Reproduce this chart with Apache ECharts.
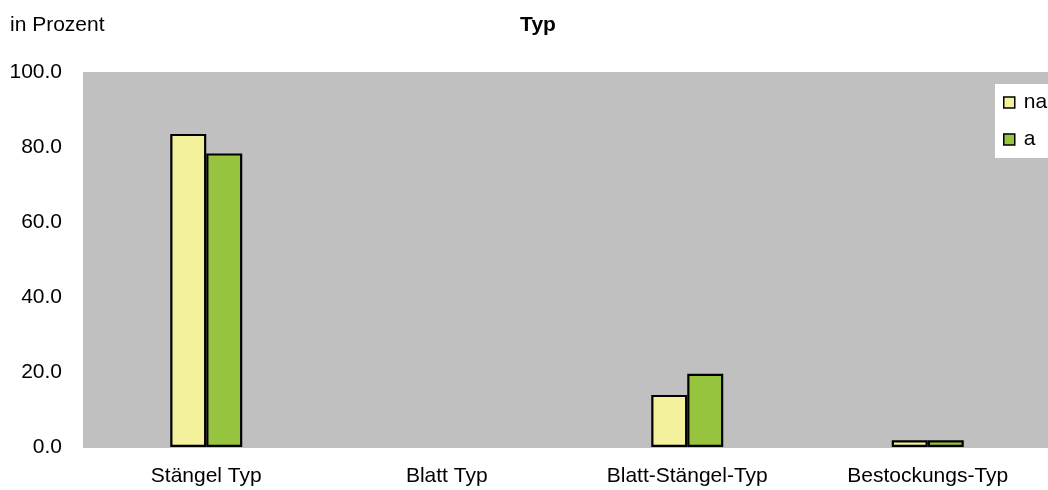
<!DOCTYPE html>
<html>
<head>
<meta charset="utf-8">
<script src="https://cdn.jsdelivr.net/npm/echarts@6/dist/echarts.min.js"></script>
<style>
  html, body { margin: 0; padding: 0; background: #fff; }
  #chart { width: 1048px; height: 490px; }
</style>
</head>
<body>
<div id="chart"></div>
<script>
// Wuchstyp-Anteile in Prozent
const categories = ['Stängel Typ', 'Blatt Typ', 'Blatt-Stängel-Typ', 'Bestockungs-Typ'];
const seriesNames = ['na', 'a'];
const valuesNa = [83.5, 0, 13.9, 1.8];
const valuesA = [78.3, 0, 19.5, 1.8];
const yTicks = { min: 0, max: 100, interval: 20 };

const FONT = '"Liberation Sans", Arial, sans-serif';
const chart = echarts.init(document.getElementById('chart'), null, { renderer: 'canvas' });

// zero-height bars get no outline so nothing shows for empty categories
const toBarData = vals => vals.map(v => v === 0
  ? { value: v, itemStyle: { borderWidth: 0, opacity: 0 } }
  : v);

chart.setOption({
  animation: false,
  backgroundColor: '#ffffff',
  textStyle: { fontFamily: FONT },
  graphic: [
    {
      type: 'rect', silent: true, z: -10,
      shape: { x: 83, y: 72, width: 970, height: 376 },
      style: { fill: '#c0c0c0' }
    },
    {
      type: 'text', left: 10, top: 15,
      style: { text: 'in Prozent', font: '21px ' + FONT, fill: '#000' }
    },
    {
      type: 'text', x: 538, y: 15,
      style: { text: 'Typ', font: 'bold 21px ' + FONT, fill: '#000', align: 'center', verticalAlign: 'top' }
    }
  ],
  legend: {
    orient: 'vertical',
    left: 995, top: 84,
    padding: [8, 40, 8, 8],
    backgroundColor: '#ffffff',
    itemWidth: 11, itemHeight: 11,
    itemGap: 16,
    icon: 'rect',
    itemStyle: { borderColor: '#000', borderWidth: 1.5 },
    textStyle: { fontSize: 21, color: '#000', fontFamily: FONT, padding: [0, 0, 0, 4] },
    data: seriesNames
  },
  grid: { left: 86, top: 72, width: 971, height: 375, containLabel: false },
  xAxis: {
    type: 'category',
    data: categories,
    axisLine: { show: false },
    axisTick: { show: false },
    axisLabel: { fontSize: 21, color: '#000', margin: 19, fontFamily: FONT }
  },
  yAxis: {
    type: 'value',
    min: yTicks.min, max: yTicks.max, interval: yTicks.interval,
    axisLine: { show: false },
    axisTick: { show: false },
    splitLine: { show: false },
    axisLabel: {
      fontSize: 21, color: '#000', margin: 24, fontFamily: FONT,
      formatter: v => v.toFixed(1)
    }
  },
  series: [
    {
      name: seriesNames[0], type: 'bar', data: toBarData(valuesNa),
      barWidth: 36, barGap: '0%',
      itemStyle: { color: '#f3f19c', borderColor: '#000', borderWidth: 2.2 }
    },
    {
      name: seriesNames[1], type: 'bar', data: toBarData(valuesA),
      barWidth: 36, barGap: '0%',
      itemStyle: { color: '#96c43e', borderColor: '#000', borderWidth: 2.2 }
    }
  ]
});
</script>
</body>
</html>
